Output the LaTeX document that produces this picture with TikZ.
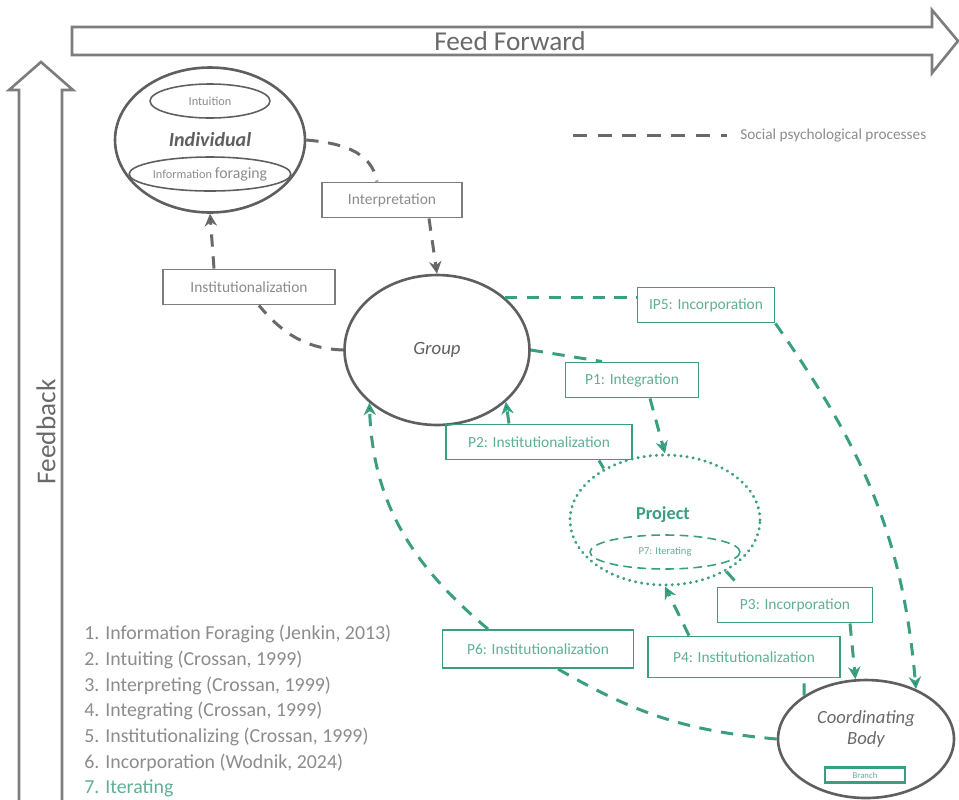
\documentclass[tikz,border=0pt]{standalone}
\usepackage{fontspec}
\setmainfont{Carlito}
\usetikzlibrary{shapes.geometric,arrows.meta}
\definecolor{procgray}{RGB}{105,105,105}
\definecolor{ringgray}{RGB}{95,95,95}
\definecolor{boxgray}{RGB}{125,125,125}
\definecolor{txtgray}{RGB}{140,140,140}
\definecolor{tealc}{RGB}{58,158,128}
\definecolor{tealtxt}{RGB}{95,175,150}

\begin{document}
\begin{tikzpicture}[x=0.02cm,y=-0.02cm,>={Stealth[length=7pt,width=7pt]},
proc/.style={draw=procgray,line width=1.7pt,dash pattern=on 7pt off 5.5pt},
pgreen/.style={proc,draw=tealc},
bigarrow/.style={draw=boxgray,line width=1.5pt,line join=miter},
level/.style={ellipse,draw=ringgray,line width=1.5pt,inner sep=0pt,text=ringgray},
inring/.style={ellipse,draw=ringgray,line width=0.9pt,inner sep=0pt,text=txtgray},
gbox/.style={rectangle,draw=boxgray,line width=1.1pt,minimum height=0.7cm,inner sep=0pt,text=txtgray,font=\fontsize{8.8}{10}\selectfont},
tbox/.style={gbox,draw=tealc,text=tealtxt}]
\useasboundingbox (0,0) rectangle (959,799);

\draw[bigarrow] (72,27) -- (932,27) -- (932,10) -- (958,41) -- (932,73) -- (932,55) -- (72,55) -- cycle;
\node[text=procgray,font=\fontsize{15.5}{18}\selectfont] (ff) at (510,41) {Feed Forward};
\draw[bigarrow] (19,800) -- (19,90) -- (9,90) -- (41,62) -- (73,90) -- (62,90) -- (62,800);
\node[rotate=90,text=procgray,font=\fontsize{15.5}{18}\selectfont] (fb) at (46,432) {Feedback};

\node[level,minimum width=3.8cm,minimum height=2.9cm,font=\fontsize{11.4}{13}\selectfont\bfseries\itshape] (ind) at (210,140) {Individual};
\node[inring,minimum width=2.4cm,minimum height=0.68cm,font=\fontsize{7}{8}\selectfont] (intu) at (210,101) {Intuition};
\node[inring,minimum width=3.0cm,minimum height=0.68cm,font=\fontsize{7}{8}\selectfont] (forag) at (210,174) {Information {\fontsize{9}{10}\selectfont foraging}};
\node[gbox,minimum width=2.8cm] (interp) at (392,200) {Interpretation};
\node[gbox,minimum width=3.44cm] (inst) at (249,287) {Institutionalization};
\node[level,minimum width=3.7cm,minimum height=3.0cm,font=\fontsize{10.7}{12}\selectfont\itshape] (grp) at (437,350) {Group};

\node[anchor=west,inner sep=0pt,text=txtgray,font=\fontsize{8.7}{10}\selectfont] (legtext) at (740,135) {Social psychological processes};
\coordinate (legstart) at (573,135);
\draw[proc,dash pattern=on 8pt off 6pt] (legstart) -- ([xshift=-0.26cm]legtext.west);

\node[tbox,minimum width=2.74cm] (ip5) at (706,305) {IP5: Incorporation};
\node[tbox,minimum width=2.66cm] (p1) at (632,380) {P1: Integration};
\node[tbox,minimum width=3.72cm] (p2) at (539,442) {P2: Institutionalization};
\node[ellipse,draw=tealc,line width=1.8pt,dash pattern=on 0.1pt off 3.4pt,line cap=round,minimum width=3.8cm,minimum height=2.6cm,inner sep=0pt] (proj) at (665,520) {};
\node[text=tealc,font=\fontsize{10.4}{12}\selectfont\bfseries] (projlabel) at (663,515) {Project};
\node[ellipse,draw=tealc,line width=0.9pt,dash pattern=on 5pt off 3pt,minimum width=3.0cm,minimum height=0.68cm,inner sep=0pt,text=tealtxt,font=\fontsize{6}{7}\selectfont] (p7) at (665,552) {P7: Iterating};
\node[tbox,minimum width=3.1cm] (p3) at (795,605) {P3: Incorporation};
\node[tbox,minimum width=3.82cm,minimum height=0.76cm] (p6) at (538,649) {P6: Institutionalization};
\node[tbox,minimum width=3.84cm,minimum height=0.82cm] (p4) at (744,657) {P4: Institutionalization};
\node[level,minimum width=3.52cm,minimum height=2.36cm] (cb) at (866,739) {};
\node[align=center,text=procgray,font=\fontsize{10.6}{12.5}\selectfont\itshape] (cblabel) at (866,729) {Coordinating\\Body};
\node[tbox,minimum width=1.6cm,minimum height=0.3cm,line width=1.3pt,font=\fontsize{5}{6}\selectfont] (branch) at (865,775) {Branch};

\node[anchor=north west,inner sep=0pt,align=left,text=txtgray,font=\fontsize{11.3}{14.6}\selectfont] (stages) at (84,625)
{1. Information Foraging (Jenkin, 2013)\\2. Intuiting (Crossan, 1999)\\3. Interpreting (Crossan, 1999)\\4. Integrating (Crossan, 1999)\\5. Institutionalizing (Crossan, 1999)\\6. Incorporation (Wodnik, 2024)\\\textcolor{tealtxt}{7. Iterating}};

\path[proc] (ind.east) edge[out=-5,in=100] ([xshift=-0.3cm]interp.north)
([xshift=0.74cm]interp.south) edge[->] (grp.north)
(grp.west) edge[out=178,in=-50] ([xshift=0.2cm]inst.south)
([xshift=-0.7cm]inst.north) edge[->] (ind.south);

\path[pgreen] (grp.38) edge (ip5.west |- grp.38)
(ip5.south east) edge[->,out=-55,in=95] (cb.45)
(grp.east) edge ([xshift=-0.6cm]p1.north)
([xshift=0.36cm]p1.south) edge[->] (proj.north)
(proj.140) edge ([xshift=1.2cm]p2.south)
([xshift=-0.6cm]p2.north) edge[->] (grp.-37)
(proj.-40) edge ([xshift=-1.1cm]p3.north)
([xshift=1.1cm]p3.south) edge[->] (cb.100)
(cb.145) edge ([xshift=1.2cm]p4.south)
([xshift=-1.1cm]p4.north) edge[->] (proj.south)
(cb.west) edge[out=175,in=-30] ([xshift=0.4cm]p6.south)
([xshift=-1cm]p6.north) edge[->,out=140,in=-88] (grp.-142);
\end{tikzpicture}
\end{document}
